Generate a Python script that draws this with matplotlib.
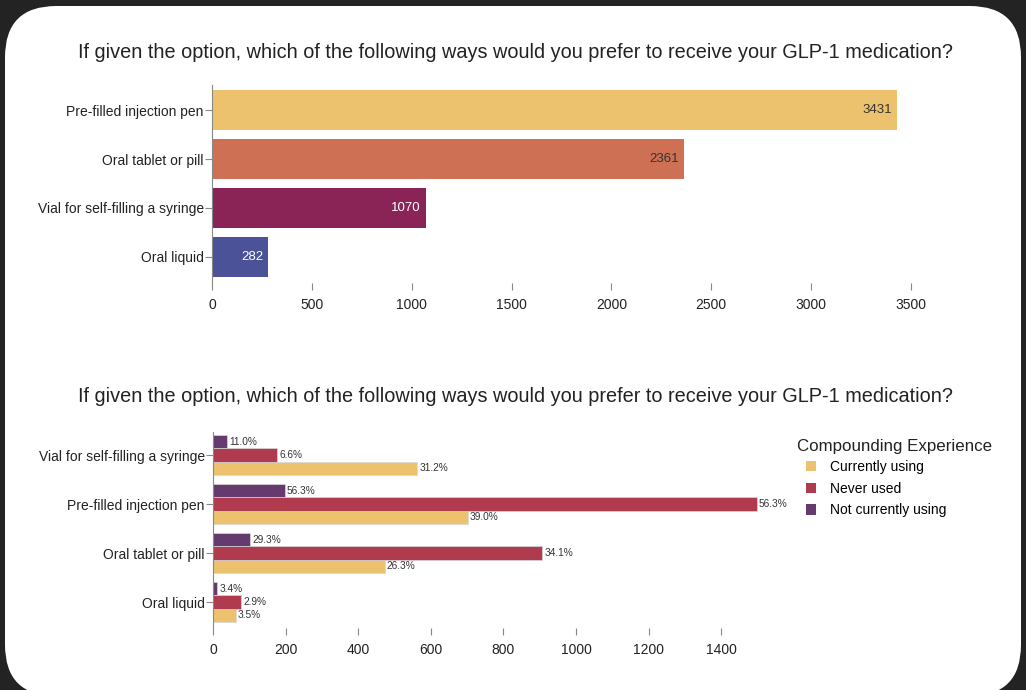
import numpy as np
import matplotlib as mpl
import matplotlib.pyplot as plt
from matplotlib.patches import FancyBboxPatch

mpl.rcParams['font.family'] = ['Liberation Sans', 'DejaVu Sans']

title = 'If given the option, which of the following ways would you prefer to receive your GLP-1 medication?'

# top chart data
top_cats = ['Pre-filled injection pen', 'Oral tablet or pill',
            'Vial for self-filling a syringe', 'Oral liquid']
top_vals = [3431, 2361, 1070, 282]
top_colors = ['#ECC26F', '#CD7053', '#8A2457', '#4B5297']
top_text_colors = ['#333333', '#333333', 'white', 'white']

# bottom chart data
bot_cats = ['Vial for self-filling a syringe', 'Pre-filled injection pen',
            'Oral tablet or pill', 'Oral liquid']
groups = ['Currently using', 'Never used', 'Not currently using']
currently = [562, 702, 473, 63]
never = [176, 1498, 907, 77]
not_current = [39, 197, 103, 12]
currently_pct = ['31.2%', '39.0%', '26.3%', '3.5%']
never_pct = ['6.6%', '56.3%', '34.1%', '2.9%']
not_current_pct = ['11.0%', '56.3%', '29.3%', '3.4%']
group_colors = ['#ECC26F', '#B03B4F', '#653A6F']

fig = plt.figure(figsize=(10.26, 6.9), dpi=100)
fig.patch.set_facecolor('#232323')
card = FancyBboxPatch((5/1026, -6/690), 1016/1026, 690/690,
                      boxstyle='round,pad=0,rounding_size=0.05',
                      transform=fig.transFigure, facecolor='white',
                      edgecolor='none', mutation_aspect=1026/690, zorder=-5)
fig.patches.append(card)

grey = '#888888'

def style(ax):
    for s in ['top', 'right', 'bottom']:
        ax.spines[s].set_visible(False)
    ax.spines['left'].set_color(grey)
    ax.spines['left'].set_linewidth(0.8)
    ax.tick_params(axis='both', color=grey, length=5, width=0.8,
                   labelcolor='#222222')
    ax.tick_params(axis='y', labelsize=10, pad=1)
    ax.tick_params(axis='x', labelsize=10, pad=6)
    ax.set_facecolor('none')

# ---- top chart
ax1 = fig.add_axes([212/1026, 407/690, 721/1026, 198/690])
y = np.arange(len(top_cats))
ax1.barh(y, top_vals, height=0.82, color=top_colors)
for yi, v, tc in zip(y, top_vals, top_text_colors):
    ax1.text(v - 25, yi, str(v), ha='right', va='center', fontsize=9.5, color=tc)
ax1.set_yticks(y)
ax1.set_yticklabels(top_cats)
ax1.set_ylim(3.54, -0.52)
ax1.set_xlim(0, 3610)
ax1.set_xticks([0, 500, 1000, 1500, 2000, 2500, 3000, 3500])
style(ax1)

# ---- bottom chart
ax2 = fig.add_axes([213/1026, 62/690, 571/1026, 196/690])
y = np.arange(len(bot_cats))
h = 0.27
series = [(currently, currently_pct, h), (never, never_pct, 0.0),
          (not_current, not_current_pct, -h)]
for (vals, pcts, off), col, name in zip(series, group_colors, groups):
    ax2.barh(y + off, vals, height=h, color=col, edgecolor='#d8d8d8',
             linewidth=0.5, label=name)
    for yi, v, p in zip(y, vals, pcts):
        ax2.text(v + 6, yi + off, p, ha='left', va='center', fontsize=7.3,
                 color='#333333')
ax2.set_yticks(y)
ax2.set_yticklabels(bot_cats)
ax2.set_ylim(3.53, -0.47)
ax2.set_xlim(0, 1573)
ax2.set_xticks([0, 200, 400, 600, 800, 1000, 1200, 1400])
style(ax2)

fig.text(797/1026, (690 - 447)/690, 'Compounding Experience', ha='left',
         va='center', fontsize=12.2, color='#222222')
leg = ax2.legend(loc='upper left', bbox_to_anchor=(806/1026, (690 - 460)/690),
                 bbox_transform=fig.transFigure, frameon=False, fontsize=10,
                 handlelength=0.75, handleheight=0.75, borderaxespad=0,
                 borderpad=0, labelspacing=0.55, handletextpad=1.0)
for hd in leg.legend_handles:
    hd.set_edgecolor('none')

fig.text(516/1026, 638/690, title, ha='center', va='center', fontsize=14.3,
         color='#222222')
fig.text(516/1026, 293/690, title, ha='center', va='center', fontsize=14.3,
         color='#222222')

fig.savefig('out.png', dpi=100, facecolor=fig.get_facecolor())
